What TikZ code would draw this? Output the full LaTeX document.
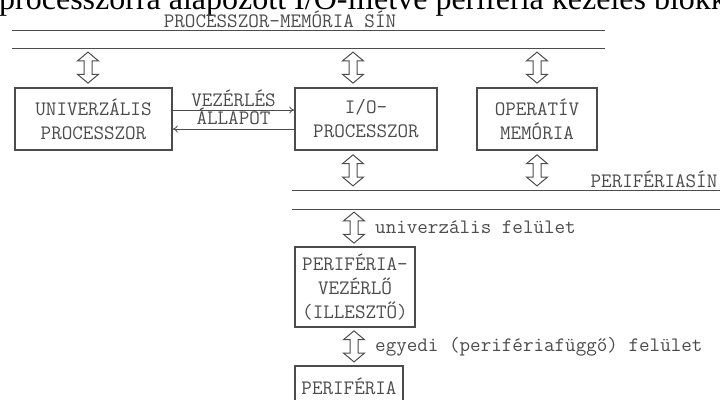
\documentclass[tikz,border=0pt]{standalone}
\usepackage{fontspec}
\newfontfamily\cimbetu{Liberation Serif}
\usetikzlibrary{shapes.arrows,arrows.meta,calc}

\definecolor{tinta}{gray}{0.3}
\newcommand\gepbetu{\ttfamily\fontsize{20.5}{24}\selectfont}

\tikzset{
  blokk/.style={draw=tinta, line width=1.5pt, text=tinta, align=center,
    inner sep=0pt, font=\gepbetu},
  ketirany/.style={double arrow, draw=tinta, line width=1pt, rotate=90,
    minimum height=31pt, inner xsep=0pt, inner ysep=3.5pt,
    double arrow head extend=6.5pt, double arrow tip angle=100},
  sinvonal/.style={draw=tinta, line width=1pt},
  felirat/.style={text=tinta, font=\gepbetu, inner sep=0pt},
  jel/.style={draw=tinta, line width=0.8pt, -{To[length=5pt,width=7pt]}}
}

\begin{document}
\begin{tikzpicture}[x=1pt,y=-1pt]
  \useasboundingbox (0,0) rectangle (720,399);
  \clip (0,0) rectangle (720,399);

  % cim (felul levagva)
  \node[anchor=base west, inner sep=0pt,
    font=\cimbetu\fontsize{32}{32}\selectfont] (cim) at (-1,9)
    {processzorra alapozott I/O-illetve periféria kezelés blokk};

  % processzor-memoria sin
  \coordinate (pmA1) at (12,30);  \coordinate (pmA2) at (605,30);
  \coordinate (pmB1) at (12,48);  \coordinate (pmB2) at (605,48);
  \draw[sinvonal] (pmA1) -- (pmA2);
  \draw[sinvonal] (pmB1) -- (pmB2);
  \node[felirat] (pmsin) at (280,19.5) {PROCESSZOR-MEMÓRIA SÍN};

  % blokkok
  \node[blokk, minimum width=157pt, minimum height=62pt] (upc) at (93.5,119)
    {UNIVERZÁLIS\\PROCESSZOR};
  \node[blokk, minimum width=142pt, minimum height=62pt] (iop) at (366,119)
    {I/O-\\PROCESSZOR};
  \node[blokk, minimum width=120pt, minimum height=62pt] (mem) at (537,119)
    {OPERATÍV\\MEMÓRIA};

  % periferiasin
  \coordinate (psA1) at (292,190);  \coordinate (psA2) at (722,190);
  \coordinate (psB1) at (292,209);  \coordinate (psB2) at (722,209);
  \draw[sinvonal] (psA1) -- (psA2);
  \draw[sinvonal] (psB1) -- (psB2);
  \node[felirat] (pssin) at (654,179) {PERIFÉRIASÍN};

  \node[blokk, minimum width=120pt, minimum height=80pt] (pvez) at (355,287)
    {PERIFÉRIA-\\VEZÉRLŐ\\(ILLESZTŐ)};
  \node[blokk, minimum width=108pt, minimum height=42pt, anchor=north] (per)
    at (349,365) {PERIFÉRIA};

  % vezerles / allapot
  \draw[jel] ([yshift=9pt]upc.east) -- ([yshift=9pt]upc.east -| iop.west)
    node[midway, above=3pt, felirat] (vez) {VEZÉRLÉS};
  \draw[jel] ([yshift=-10pt]iop.west) -- ([yshift=-10pt]iop.west -| upc.east)
    node[midway, above=4pt, felirat] (all) {ÁLLAPOT};

  % ketiranyu nyilak
  \node[ketirany] (n1) at ($(upc.north -| 88,0)!.5!(pmB1 -| 88,0)$) {};
  \node[ketirany] (n2) at ($(iop.north -| 353,0)!.5!(pmB1 -| 353,0)$) {};
  \node[ketirany] (n3) at ($(mem.north)!.5!(mem.north |- pmB1)$) {};
  \node[ketirany] (n4) at ($(iop.south -| 353,0)!.5!(psA1 -| 353,0)$) {};
  \node[ketirany] (n5) at ($(mem.south)!.5!(mem.south |- psA1)$) {};
  \node[ketirany] (n6) at ($(pvez.north -| 354,0)!.5!(psB1 -| 354,0)$) {};
  \node[ketirany] (n7) at ($(pvez.south -| 354,0)!.5!(per.north -| 354,0)$) {};

  \node[felirat, anchor=west] (uf) at ([xshift=21pt]n6.center)
    {univerzális felület};
  \node[felirat, anchor=west] (ef) at ([xshift=21pt]n7.center)
    {egyedi (perifériafüggő) felület};
\end{tikzpicture}
\end{document}
